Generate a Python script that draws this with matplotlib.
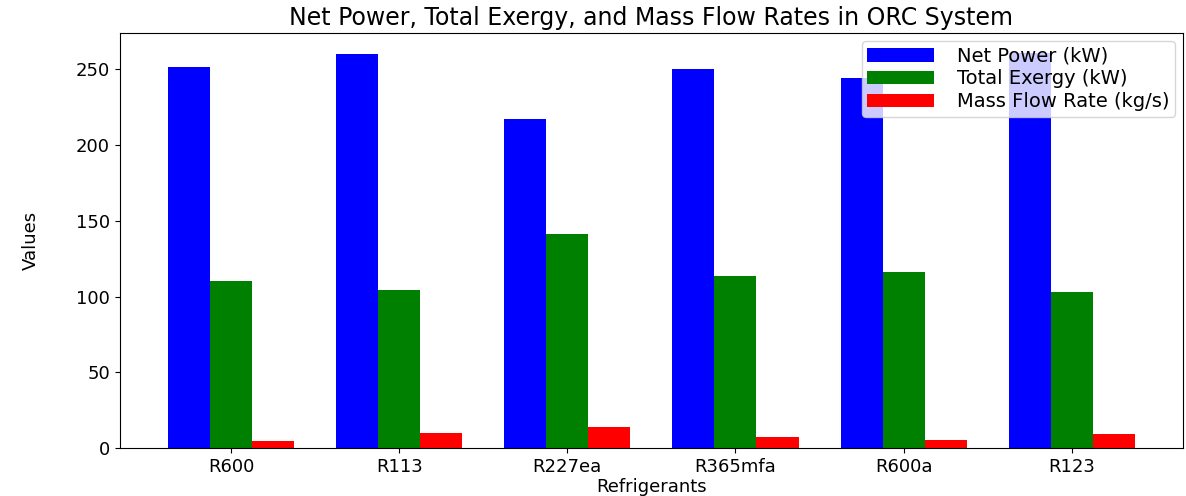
import numpy as np
import matplotlib
matplotlib.use('Agg')
import matplotlib.pyplot as plt

# values
refrigerants = ['R600', 'R113', 'R227ea', 'R365mfa', 'R600a', 'R123']
net_power = [251.5, 260.5, 217.5, 250.5, 244.5, 261.0]
total_exergy = [110.5, 104.0, 141.0, 113.5, 116.5, 103.0]
mass_flow = [4.6, 10.0, 13.8, 7.3, 5.3, 9.4]

x = np.arange(len(refrigerants))
width = 0.25

fig, ax = plt.subplots(figsize=(11.86, 4.96), dpi=100)
fig.subplots_adjust(left=0.101, right=0.9975, top=0.9335, bottom=0.0968)

ax.bar(x, net_power, width, color='blue', label='Net Power (kW)')
ax.bar(x + width, total_exergy, width, color='green', label='Total Exergy (kW)')
ax.bar(x + 2 * width, mass_flow, width, color='red', label='Mass Flow Rate (kg/s)')

ax.set_title('Net Power, Total Exergy, and Mass Flow Rates in ORC System', fontsize=17)
ax.set_xlabel('Refrigerants', fontsize=13, labelpad=2)
ax.set_ylabel('Values', fontsize=13, labelpad=26)
ax.set_xticks(x + width)
ax.set_xticklabels(refrigerants)
ax.tick_params(labelsize=13)
ax.set_yticks([0, 50, 100, 150, 200, 250])

ax.legend(loc='upper right', fontsize=14, handlelength=3.4, handletextpad=1.2,
          borderpad=0.3, labelspacing=0.2, borderaxespad=0.4)

plt.savefig('out.png', dpi=100)
